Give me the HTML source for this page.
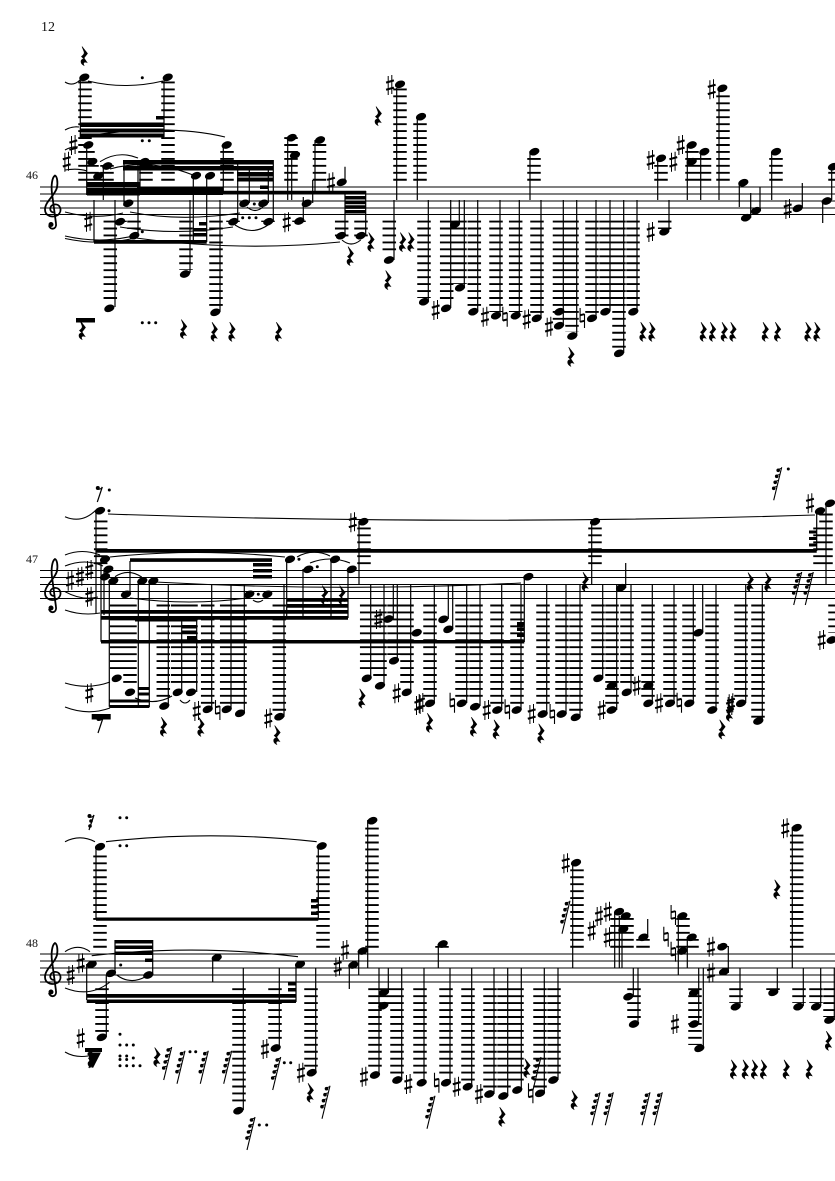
<!DOCTYPE html>
<html><head><meta charset="utf-8"><style>
html,body{margin:0;padding:0;background:#fff}
svg{display:block}
.t{font-family:"Liberation Serif",serif;fill:#111}
.st{stroke:#000;stroke-width:1.2;fill:none}
.l{stroke:#000;stroke-width:13.5;stroke-dasharray:1.9 5.05;fill:none}
.sl{stroke:#000;stroke-width:1.1;fill:none}
</style></head><body>
<svg xmlns="http://www.w3.org/2000/svg" width="835" height="1181" viewBox="0 0 835 1181">
<defs>
<g id="n"><ellipse rx="5.3" ry="3.6" transform="rotate(-20)"/></g>
<g id="s"><path d="M-1.800-9V10M1.800-10V9" stroke="#000" stroke-width="1"/><path d="M-3.900-2.400L3.900-4.600M-3.900 4.800L3.900 2.600" stroke="#000" stroke-width="2.100"/></g>
<g id="h"><path d="M-2.200-10V4M2.200-4V10" stroke="#000" stroke-width="1.100"/><path d="M-2.200-2.800L2.200-3.800M-2.200 3.800L2.200 2.800" stroke="#000" stroke-width="2"/></g>
<g id="r"><path d="M-2-9.500L3.500-2.500L0 2L3 6.500C0.500 5.500-1.500 6.500 0 9.500C-4 7.500-4 3 0 3L-2.500 0.500Q1-2 0-4.500Z" stroke="#000" stroke-width=".6"/></g>
<g id="f"><path d="M5-16L-3 17" stroke="#000" stroke-width="1.100"/><circle cx="1.500" cy="-13" r="1.800"/><circle cx="0" cy="-7" r="1.800"/><circle cx="-1.500" cy="-1" r="1.800"/><circle cx="-3" cy="5" r="1.800"/><path d="M1.500-14L5-15M0-8L3.500-9M-1.500-2L2-3M-3 4L0.500 3" stroke="#000" stroke-width="1"/></g>
<g id="c"><path d="M1 5C-4 5-4-2 1-3C7-4 10 3 5 7.500C0 10.500-8 9-8 2C-8-6 2-12 4-20C5-26 4-31 2-32C-1-30-2-22-1-14L3 16C4 22-3 23-4 18" fill="none" stroke="#000" stroke-width="1.800"/><circle cx="-2" cy="17" r="2.500"/></g>
<g id="e"><path d="M3-7L-2 8" stroke="#000" stroke-width="1.200"/><circle cx="-1.500" cy="-6" r="2"/><path d="M-1.500-5Q1-4 3-7" stroke="#000" fill="none"/></g>
<g id="d"><circle r="1.500"/></g>
</defs>
<text class="t" x="41" y="31" font-size="14">12</text>
<text class="t" x="26" y="179" font-size="12">46</text>
<text class="t" x="26" y="563" font-size="12">47</text>
<text class="t" x="26" y="947" font-size="12">48</text>

<!-- staves -->
<path d="M40 187H835M40 194H835M40 201H835M40 208H835" stroke="#000" stroke-width="1"/>
<path d="M40 214.500H835" stroke="#000" stroke-width="1"/>
<path d="M40 570.500H835M40 577.500H835M40 584.500H835M40 591.500H835M40 598.500H835" stroke="#000" stroke-width="1"/>
<path d="M40 954H835M40 961H835M40 968H835M40 975H835M40 982H835" stroke="#000" stroke-width="1"/>
<use href="#c" x="53" y="207.500"/><use href="#c" x="53" y="591"/><use href="#c" x="53" y="975"/>

<!-- ledgers -->
<path class="l" d="M85 180.700V81M88 180.700V150M168 180.700V81M227 180.700V151M146 180.700V165M92 180.700V165M98 180.700V178M107 180.700V165M291 180.700V137M319.500 180.700V144M400 180.700V87M420 180.700V120M534 180.700V155M661 180.700V165M692 180.700V150M704.500 180.700V155M723 180.700V92M776 180.700V155M835 180.700V170"/>
<path class="l" d="M110.300 220.600V304M134 220.600V229M120 220.600V222M186 220.600V270M216 220.600V308M233 220.600V222M268 220.600V222M299 220.600V222M341.700 220.600V237M361 220.600V237M389.300 220.600V255M424 220.600V298M446.700 220.600V304M460 220.600V284M474.300 220.600V308M496 220.600V312M515.700 220.600V312M537 220.600V315M559.500 220.600V325M572 220.600V332M592 220.600V315M606 220.600V308M619 220.600V350M633 220.600V308M664.700 220.600V229"/>
<path class="l" d="M100.700 564.100V520M364 564.100V527M595 564.100V527M820 564.100V527M826 564.100V510"/>
<path class="l" d="M116.700 604.550V672M130 604.550V686M163.300 604.550V700M177.700 604.550V686M191 604.550V686M207.700 604.550V706M226.700 604.550V706M240 604.550V707M279.300 604.550V712M366.700 604.550V672M380 604.550V680M394 604.550V655M407 604.550V686M430 604.550V700M462 604.550V700M476 604.550V700M497 604.550V707M517 604.550V707M543 604.550V707M562 604.550V707M576 604.550V714M598 604.550V672M612 604.550V707M627 604.550V686M648 604.550V700M670 604.550V700M689 604.550V700M712 604.550V707M741 604.550V700M758 604.550V721M835 604.550V633"/>
<path class="l" d="M100 947.700V851M323 947.700V851M372 947.700V825M442 947.700V946M577 947.700V867M617 947.700V917M627 947.700V917M643 947.700V939M683 947.700V918M692 947.700V939M796.700 947.700V832"/>
<path class="l" d="M102 988.250V1033M239 988.250V1106M275 988.250V1043M311 988.250V1068M375 988.250V1071M384 988.250V1006M397 988.250V1076M420 988.250V1078M446 988.250V1078M468 988.250V1082M490 988.250V1090M504 988.250V1092M517 988.250V1085M540 988.250V1090M554 988.250V1076M634 988.250V1020M695 988.250V1045M736 988.250V1003M773 988.250V990M799 988.250V1003M816 988.250V1003M830 988.250V1017"/>

<!-- stems -->
<path class="st" d="M80.300 77V137M164 77V137M86.700 145V195M94 200V242M103.300 166V200M115 200V307M124 161.700V206M138 163V233M140 165V195M190 200V273M193.300 176.700V242M206.700 176.700V242M220 200V312M223.300 145V193M237.700 163V220M249.300 170V203M268.300 170V203M273.300 160V221.700M287.700 137.700V200M291.700 155V200M303.300 197V221M312.700 180V203M315 140V193M345 166.700V183M345 191V235M365.700 191V235M394 200V260M396.700 88V200M417.300 116.700V200M428.300 200V300M450.700 200V308M459.300 200V224M464.300 200V287M477.700 200V311M500 200V315M519.300 200V315M530 151V200M541 200V318M563.300 200V325M576.700 200V336M596 200V318M610 200V311M623.700 200V353M637 200V311M669 200V230M657.700 158V200M687.300 145V200M700.700 151.700V200M719 88V200M739.300 182.700V207M750.700 193V217.700M760 186.700V210.700M771.700 151.700V200M802.300 183V208M822.700 201V223M831.700 165V200"/>
<path class="st" d="M96 510V613M359 521V584M591.700 521V584M816.700 511V551M826 505V585M101 559V641.700M104 570V615M109.300 581V706.700M130 561V594M138.300 581V707M149.300 581V707M168.300 585V705M181.700 620V692M196.700 620V692M211.700 585V709M231 585V709M244.300 585V713M284 585V716.700M286.700 559V618M303 569V618M331 559V618M348 569V618M370.700 585V678M384 585V686M393.300 585V619M397.300 585V660M410.700 585V692M434.300 585V703M448.300 585V619M452.700 585V629M466.700 585V703M480 585V706M501.700 585V710M521 585V710M524.300 577V642M546.700 585V714M566 585V714M580 585V717M602.700 585V678M616.700 585V710M625.700 563V588M631 585V692M652.300 585V703M674 585V703M693.300 585V703M702.700 585V632M716 585V710M745.700 585V703M762.300 585V721"/>
<path class="st" d="M96 846V919M318.300 846V919M86.700 964V1000M115 940V973M152.700 940V975M212.700 957V982M296 964V1002M106.300 975V1037M243.300 968V1110M279.300 968V1048M315.700 968V1072M379 968V1075M388.300 968V992M401.700 968V1080M349.300 965V989M358.700 951V975M367.700 820V968M424 968V1082M438.300 944V968M450 968V1082M471.700 968V1086M494 968V1094M507.700 968V1096M521.300 968V1090M544.300 968V1093M558 968V1080M572.700 862V968M614.700 912V968M619.300 916V968M622 929V968M647.700 919V937M678.300 916V975M687.300 937V968M728.300 946V973M633.300 968V996M638 968V1024M698.700 968V1024M703.300 968V1048M740 968V1006M777.300 968V992M803.300 968V1006M820.700 968V1006M834.300 968V1020M792.300 827V968"/>

<!-- beams -->
<path d="M80 122.500H164V127H80ZM80 128.500H164V132.500H80ZM80 133.500H164V137.500H80ZM156 116H164V119.500H156ZM87 182H140V186.500H87ZM87 188H140V195.500H87ZM123 160H273V164.500H123ZM123 166H273V170.500H123ZM237 172H273V176.500H237ZM237 177.500H273V181.500H237ZM260 185.500H268V189H260ZM137 187H223V195H137ZM223 190.700H366V194.300H223ZM345 196H366V199.500H345ZM345 200.700H366V204.200H345ZM345 205.300H366V208.900H345ZM345 210H366V213.500H345ZM94 240H206.700V243.800H94ZM193 228H206.700V231.500H193ZM193 233H206.700V236.500H193ZM199 222H206.700V225.500H199ZM76 318H95V322.500H76Z"/>
<path d="M96 549H816.700V552.700H96ZM130 558.300H272V561.900H130ZM253 563H272V566.500H253ZM253 569H272V572.500H253ZM253 575H272V578.500H253ZM101 610H348V613.800H101ZM101 616H348V619.800H101ZM287 598H348V601.800H287ZM287 604H348V607.800H287ZM135 618H197V621.500H135ZM182 625H197V628.500H182ZM182 630.500H197V634H182ZM187 636H197V639.500H187ZM101 640H524.300V643.500H101ZM517 622H524.300V625.500H517ZM517 627.500H524.300V631H517ZM517 633.500H524.300V637H517ZM109.300 699.500H149.300V702.500H109.300ZM109.300 705H149.300V708H109.300ZM138 687H149.300V690H138ZM138 692.500H149.300V695.500H138ZM809 530.500H816.700V533.500H809ZM809 537H816.700V540H809ZM809 543.500H816.700V546.500H809ZM91.700 714H110.700V719.500H91.700Z"/>
<path d="M96 917.500H318.300V920.800H96ZM311 899H318.300V902.500H311ZM311 905H318.300V908.500H311ZM311 911.500H318.300V915H311ZM86.700 994H296V997.800H86.700ZM86.700 999.500H296V1003H86.700ZM115 940H152.700V943.500H115ZM115 945.500H152.700V949H115ZM115 951.500H152.700V955H115ZM145 958.500H152.700V962H145ZM288 982H296V985.500H288ZM288 988H296V991.500H288ZM85 1048H102V1052H85ZM88 1052.500H101L93 1068L90 1066Z"/>

<!-- notes system 1 -->
<g>
<use href="#n" x="84.300" y="77.300"/><use href="#n" x="167.700" y="77.300"/><use href="#n" x="88.300" y="145"/><use href="#n" x="226.700" y="145"/><use href="#n" x="144.300" y="161.700"/><use href="#n" x="92.300" y="161.700"/><use href="#n" x="107.300" y="166"/><use href="#n" x="98.300" y="176"/><use href="#n" x="196" y="175.700"/><use href="#n" x="210" y="175.700"/><use href="#n" x="128.300" y="203.300"/><use href="#n" x="120" y="221.700"/><use href="#n" x="134.300" y="235.700"/><use href="#n" x="244.300" y="203.300"/><use href="#n" x="263.300" y="203.300"/><use href="#n" x="233.300" y="221.700"/><use href="#n" x="268.300" y="221.700"/><use href="#n" x="299.300" y="221"/><use href="#n" x="306.700" y="203.300"/><use href="#n" x="291.700" y="137.700"/><use href="#n" x="295" y="155"/><use href="#n" x="320" y="140"/><use href="#n" x="341.700" y="182.300"/><use href="#n" x="341" y="235.700"/><use href="#n" x="360.700" y="235.700"/><use href="#n" x="389" y="260"/><use href="#n" x="400" y="84.300"/><use href="#n" x="421" y="116.700"/><use href="#n" x="109.300" y="308.300"/><use href="#n" x="185" y="274"/><use href="#n" x="215.300" y="312.300"/>
<use href="#n" x="424" y="301.700"/><use href="#n" x="446" y="308.300"/><use href="#n" x="455" y="224.300"/><use href="#n" x="460" y="287.700"/><use href="#n" x="473.300" y="311.700"/><use href="#n" x="496" y="315.700"/><use href="#n" x="515.700" y="315.700"/><use href="#n" x="536.700" y="318.300"/><use href="#n" x="534.300" y="151.700"/><use href="#n" x="559" y="325.700"/><use href="#n" x="559.300" y="311.700"/><use href="#n" x="572.300" y="336"/><use href="#n" x="592" y="318.300"/><use href="#n" x="605.300" y="311.700"/><use href="#n" x="619" y="353.300"/><use href="#n" x="633.300" y="311.700"/><use href="#n" x="664.300" y="231.700"/><use href="#n" x="661" y="158.300"/><use href="#n" x="691.700" y="145"/><use href="#n" x="691.700" y="161.700"/><use href="#n" x="704.300" y="151.700"/><use href="#n" x="722.300" y="88.300"/><use href="#n" x="743.300" y="182.700"/><use href="#n" x="746" y="217.700"/><use href="#n" x="756" y="210.700"/><use href="#n" x="776" y="151.700"/><use href="#n" x="797.700" y="208.300"/><use href="#n" x="826.700" y="201"/><use href="#n" x="833" y="166.700"/>
</g>
<!-- sharps etc system 1 -->
<use href="#s" x="73.300" y="145"/><use href="#s" x="66.700" y="161.700"/><use href="#s" x="88.300" y="221.700"/><use href="#s" x="286.700" y="222.300"/><use href="#s" x="331" y="182.300"/><use href="#s" x="390" y="85"/><use href="#s" x="435.700" y="310"/><use href="#s" x="485" y="316.700"/><use href="#h" x="505" y="316.700"/><use href="#s" x="526.700" y="319.300"/><use href="#s" x="549" y="326.700"/><use href="#h" x="582.300" y="318"/><use href="#s" x="650.700" y="232"/><use href="#s" x="650.700" y="160"/><use href="#s" x="673.300" y="161.700"/><use href="#s" x="680.700" y="145"/><use href="#s" x="711.700" y="89.300"/><use href="#s" x="787.700" y="209"/>
<!-- rests system 1 -->
<use href="#r" x="84" y="56"/><use href="#r" x="378" y="116"/><use href="#r" x="350" y="256"/><use href="#r" x="370.700" y="242"/><use href="#r" x="387.700" y="280"/><use href="#r" x="402.300" y="242"/><use href="#r" x="410.700" y="242"/><use href="#r" x="183.300" y="329"/><use href="#r" x="214" y="331.700"/><use href="#r" x="231.700" y="331.700"/><use href="#r" x="278.300" y="331.700"/><use href="#r" x="82" y="330"/><use href="#r" x="570.700" y="356.700"/><use href="#r" x="642.700" y="331.700"/><use href="#r" x="651.700" y="331.700"/><use href="#r" x="703" y="331.700"/><use href="#r" x="712.300" y="331.700"/><use href="#r" x="724" y="331.700"/><use href="#r" x="732.700" y="331.700"/><use href="#r" x="765" y="331.700"/><use href="#r" x="777.300" y="331.700"/><use href="#r" x="807.700" y="331.700"/><use href="#r" x="816.700" y="331.700"/>
<!-- dots system 1 -->
<use href="#d" x="142.300" y="77.700"/><use href="#d" x="142.300" y="140.700"/><use href="#d" x="149.300" y="140.700"/><use href="#d" x="254.300" y="204"/><use href="#d" x="242.700" y="217.700"/><use href="#d" x="249.300" y="217.700"/><use href="#d" x="256" y="217.700"/><use href="#d" x="142.300" y="231.700"/><use href="#d" x="142.300" y="322.700"/><use href="#d" x="149" y="322.700"/><use href="#d" x="155.700" y="322.700"/>
<!-- slurs system 1 -->
<g class="sl">
<path d="M65 82Q73 87 80 80M88 81Q125 90 163 81M65 130Q72 126 79 127M93 135Q170 124 225 137M65 150Q72 146 78 147M65 170Q78 168 87 171M100 161.700Q118 150 138 158M110 169Q150 158 193 175M65 212Q95 220 123 213M130 212Q180 222 240 213M120 227Q175 236 233 227M65 236Q100 244 133 236M65 238.500Q100 246 133 238.500M136 238Q240 252 340 242M235 225Q252 236 268 225M247 207Q255 214 263 207M342 240Q351 248 360.700 240"/>
</g>

<!-- notes system 2 -->
<use href="#n" x="100" y="510.700"/><use href="#n" x="363.300" y="521.700"/><use href="#n" x="105" y="559.300"/><use href="#n" x="108.300" y="569.300"/><use href="#n" x="105" y="576.700"/><use href="#n" x="113.300" y="581"/><use href="#n" x="126" y="594.300"/><use href="#n" x="142.300" y="581"/><use href="#n" x="153.300" y="581"/><use href="#n" x="249.300" y="594.300"/><use href="#n" x="267.300" y="594.300"/><use href="#n" x="290" y="559.300"/><use href="#n" x="308.300" y="569.300"/><use href="#n" x="335" y="559.300"/><use href="#n" x="351.700" y="569.300"/><use href="#n" x="116.700" y="678.300"/><use href="#n" x="130" y="692.300"/><use href="#n" x="164.300" y="706"/><use href="#n" x="177.700" y="692.300"/><use href="#n" x="191" y="692.300"/><use href="#n" x="207.700" y="709.300"/><use href="#n" x="226.700" y="709.300"/><use href="#n" x="240" y="713.300"/><use href="#n" x="279.300" y="716.700"/><use href="#n" x="366.700" y="678.300"/><use href="#n" x="380" y="685.700"/><use href="#n" x="388.300" y="619"/><use href="#n" x="394" y="660.700"/><use href="#n" x="406.700" y="692.300"/><use href="#n" x="416.700" y="632.700"/>
<use href="#n" x="595" y="521.700"/><use href="#n" x="528.300" y="576.700"/><use href="#n" x="621" y="587.700"/><use href="#n" x="820" y="511"/><use href="#n" x="830" y="503.300"/><use href="#n" x="430" y="703.300"/><use href="#n" x="443.300" y="619.300"/><use href="#n" x="448.300" y="629.300"/><use href="#n" x="461.700" y="703.300"/><use href="#n" x="475" y="706.700"/><use href="#n" x="497.300" y="710"/><use href="#n" x="516.700" y="710"/><use href="#n" x="542.700" y="714"/><use href="#n" x="561.700" y="714"/><use href="#n" x="575.700" y="717.300"/><use href="#n" x="598.300" y="678.300"/><use href="#n" x="611.700" y="685.700"/><use href="#n" x="611.700" y="710"/><use href="#n" x="626.700" y="692.300"/><use href="#n" x="648.300" y="685.700"/><use href="#n" x="648.300" y="703.300"/><use href="#n" x="670" y="703.300"/><use href="#n" x="689.300" y="703.300"/><use href="#n" x="698.300" y="632.700"/><use href="#n" x="712.300" y="710"/><use href="#n" x="741" y="703.300"/><use href="#n" x="758.300" y="721"/><use href="#n" x="831.700" y="640"/>
<!-- accidentals system 2 -->
<use href="#s" x="70" y="580.700"/><use href="#s" x="80" y="576.700"/><use href="#s" x="89.300" y="570"/><use href="#s" x="89.300" y="596.700"/><use href="#s" x="352.700" y="522.300"/><use href="#s" x="89.300" y="693.300"/><use href="#s" x="196.700" y="711"/><use href="#h" x="217.700" y="710"/><use href="#s" x="268.300" y="718.300"/><use href="#s" x="378.300" y="619"/><use href="#s" x="396.700" y="693.300"/><use href="#s" x="418.300" y="705"/><use href="#s" x="810" y="503.300"/><use href="#s" x="421" y="703"/><use href="#h" x="452.300" y="702.700"/><use href="#s" x="486.700" y="710"/><use href="#h" x="507.300" y="709.300"/><use href="#s" x="531.700" y="714"/><use href="#h" x="552.300" y="714"/><use href="#s" x="601.700" y="710"/><use href="#s" x="636.700" y="685.700"/><use href="#s" x="659" y="703.300"/><use href="#h" x="679.300" y="702.700"/><use href="#s" x="731" y="703.300"/><use href="#s" x="730" y="706"/><use href="#s" x="821.700" y="640"/>
<!-- rests system 2 -->
<use href="#e" x="99.300" y="494"/><use href="#d" x="109.300" y="490"/><use href="#d" x="109" y="510.700"/><use href="#d" x="258.300" y="594.300"/><use href="#d" x="299" y="559.300"/><use href="#d" x="317.300" y="566.700"/><use href="#e" x="100" y="725"/><use href="#d" x="108.500" y="716"/>
<use href="#r" x="163.300" y="726.700"/><use href="#r" x="200.700" y="726.700"/><use href="#r" x="276.700" y="735"/><use href="#r" x="324.300" y="595"/><use href="#r" x="341.700" y="595"/><use href="#r" x="361.700" y="698.300"/><use href="#r" x="585" y="581.700"/><use href="#r" x="750" y="582"/><use href="#r" x="767.700" y="582"/><use href="#r" x="721.700" y="729.300"/><use href="#r" x="729.300" y="711.700"/><use href="#r" x="429.300" y="722.700"/><use href="#r" x="473.300" y="726.700"/><use href="#r" x="496" y="729.300"/><use href="#r" x="540.700" y="733.300"/>
<use href="#f" x="776.700" y="483.300"/><use href="#d" x="788.300" y="469"/><use href="#f" x="796.700" y="588"/><use href="#f" x="808.300" y="588"/>
<!-- slurs system 2 -->
<g class="sl">
<path d="M65 516.700Q82 524 96 510M108 514Q460 526 815 515M65 555Q82 548 100 555M65 566Q85 558 103 566M65 591.700Q82 601 98 597M65 610Q82 616 100 613M110 557Q195 548 285 557M297 557Q313 548 330 556M310 563Q330 555 350 563M115 576.700Q128 568 141.700 577M155 582Q340 592 521 583M130 598Q190 606 247 598M253 600Q258 604 263 600M65 683Q88 690 110 682M65 707Q88 716 110 708M135 698Q155 706 172 696M180 700Q185 706 190 700"/>
</g>

<!-- notes system 3 -->
<use href="#n" x="100" y="846.700"/><use href="#n" x="321.700" y="846"/><use href="#n" x="91.700" y="964.300"/><use href="#n" x="111" y="973.300"/><use href="#n" x="148.300" y="975"/><use href="#n" x="216.700" y="957.700"/><use href="#n" x="300" y="964.300"/><use href="#n" x="101.700" y="1037.300"/><use href="#n" x="238.300" y="1110.700"/><use href="#n" x="275.700" y="1048"/><use href="#n" x="311.700" y="1072.700"/><use href="#n" x="375" y="1075"/><use href="#n" x="384" y="992.300"/><use href="#n" x="383.300" y="1005.700"/><use href="#n" x="397.300" y="1080"/><use href="#n" x="353.300" y="965"/><use href="#n" x="362.700" y="951"/><use href="#n" x="372.300" y="820.700"/>
<use href="#n" x="421.700" y="1082.700"/><use href="#n" x="442.700" y="944"/><use href="#n" x="446" y="1082.700"/><use href="#n" x="467.700" y="1086.700"/><use href="#n" x="489.300" y="1094"/><use href="#n" x="503.300" y="1096"/><use href="#n" x="517.300" y="1090"/><use href="#n" x="540" y="1093.300"/><use href="#n" x="553.300" y="1080"/><use href="#n" x="576" y="862.700"/><use href="#n" x="619" y="911.700"/><use href="#n" x="625.700" y="916"/><use href="#n" x="623.300" y="929.300"/><use href="#n" x="643.300" y="937.300"/><use href="#n" x="682.300" y="916"/><use href="#n" x="691.700" y="937.300"/><use href="#n" x="682.300" y="951"/><use href="#n" x="722.300" y="946.700"/><use href="#n" x="724" y="971.700"/><use href="#n" x="628.300" y="996.700"/><use href="#n" x="634" y="1024"/><use href="#n" x="694" y="992.700"/><use href="#n" x="694" y="1024"/><use href="#n" x="699.300" y="1048.300"/><use href="#n" x="735.700" y="1006.700"/><use href="#n" x="773.300" y="992.300"/><use href="#n" x="798.300" y="1006.700"/><use href="#n" x="816" y="1006.700"/><use href="#n" x="829.300" y="1020"/><use href="#n" x="796.700" y="827.700"/>
<!-- accidentals system 3 -->
<use href="#s" x="70.700" y="975"/><use href="#s" x="80.700" y="963.300"/><use href="#s" x="265" y="1049"/><use href="#s" x="301" y="1072.700"/><use href="#s" x="364" y="1076.700"/><use href="#s" x="408.300" y="1084"/><use href="#s" x="337.700" y="966.700"/><use href="#s" x="345" y="950"/><use href="#s" x="80.700" y="1038.300"/><use href="#h" x="436.700" y="1082.700"/><use href="#s" x="456.700" y="1086.700"/><use href="#s" x="479" y="1094"/><use href="#h" x="530.700" y="1093.300"/><use href="#s" x="565.700" y="863.300"/><use href="#s" x="591.700" y="930.700"/><use href="#s" x="599" y="916"/><use href="#s" x="607.700" y="911.700"/><use href="#s" x="607.700" y="937.300"/><use href="#h" x="673.300" y="915"/><use href="#h" x="666" y="936.700"/><use href="#h" x="673.300" y="951.700"/><use href="#s" x="711" y="946.700"/><use href="#s" x="711" y="972.700"/><use href="#s" x="675" y="1024"/><use href="#s" x="785.300" y="828.300"/>
<!-- rests system 3 -->
<use href="#r" x="91" y="1058"/><use href="#e" x="91" y="1060"/><use href="#e" x="91" y="822"/><circle cx="91" cy="821" r="1.800"/><circle cx="90" cy="826" r="1.800"/><use href="#r" x="156.700" y="1057"/><use href="#r" x="310" y="1092.700"/><use href="#r" x="776.700" y="889.300"/><use href="#r" x="828.300" y="1040.700"/><use href="#r" x="733.300" y="1069.300"/><use href="#r" x="745" y="1069.300"/><use href="#r" x="754.300" y="1069.300"/><use href="#r" x="763.300" y="1069.300"/><use href="#r" x="786" y="1069.300"/><use href="#r" x="809" y="1069.300"/><use href="#r" x="574" y="1100"/><use href="#r" x="501.700" y="1116.700"/><use href="#r" x="526.700" y="1068"/>
<use href="#f" x="166.700" y="1063"/><use href="#f" x="180" y="1066.700"/><use href="#f" x="203.300" y="1066.700"/><use href="#f" x="226.700" y="1066.700"/><use href="#f" x="275.700" y="1073"/><use href="#f" x="325" y="1101.700"/><use href="#f" x="250" y="1133"/><use href="#f" x="430" y="1111.700"/><use href="#f" x="565" y="916.700"/><use href="#f" x="536" y="1073"/><use href="#f" x="595" y="1108.300"/><use href="#f" x="608.300" y="1108.300"/><use href="#f" x="645" y="1108.300"/><use href="#f" x="657.300" y="1108.300"/>
<!-- dots system 3 -->
<use href="#d" x="120" y="817.700"/><use href="#d" x="126.700" y="817.700"/><use href="#d" x="120" y="845.700"/><use href="#d" x="126.700" y="845.700"/><use href="#d" x="120.700" y="965"/><use href="#d" x="120" y="1034.300"/><use href="#d" x="120" y="1045"/><use href="#d" x="126.700" y="1045"/><use href="#d" x="133.300" y="1045"/><use href="#d" x="120" y="1056"/><use href="#d" x="126.700" y="1056"/><use href="#d" x="133.300" y="1058"/><use href="#d" x="120" y="1059.500"/><use href="#d" x="126.700" y="1059.500"/><use href="#d" x="120" y="1065.700"/><use href="#d" x="126.700" y="1065.700"/><use href="#d" x="133.300" y="1065.700"/><use href="#d" x="140" y="1065.700"/><use href="#d" x="190" y="1051.700"/><use href="#d" x="195.700" y="1051.700"/><use href="#d" x="284.300" y="1062.700"/><use href="#d" x="290.700" y="1062.700"/><use href="#d" x="259.300" y="1125"/><use href="#d" x="266.700" y="1125"/>
<!-- slurs system 3 -->
<g class="sl">
<path d="M65 841.700Q80 834 95 841.700M106 841.700Q210 830 316.700 841.700M65 951.700Q78 943 90 951.700M91.700 955.700Q195 944 298 956.700M65 988Q90 998 110 982M116.700 975Q130 985 145 977M65 1052Q75 1058 88 1056"/>
<path d="M728.300 946.700Q724 945 718 945"/>
</g>
</svg>
</body></html>
